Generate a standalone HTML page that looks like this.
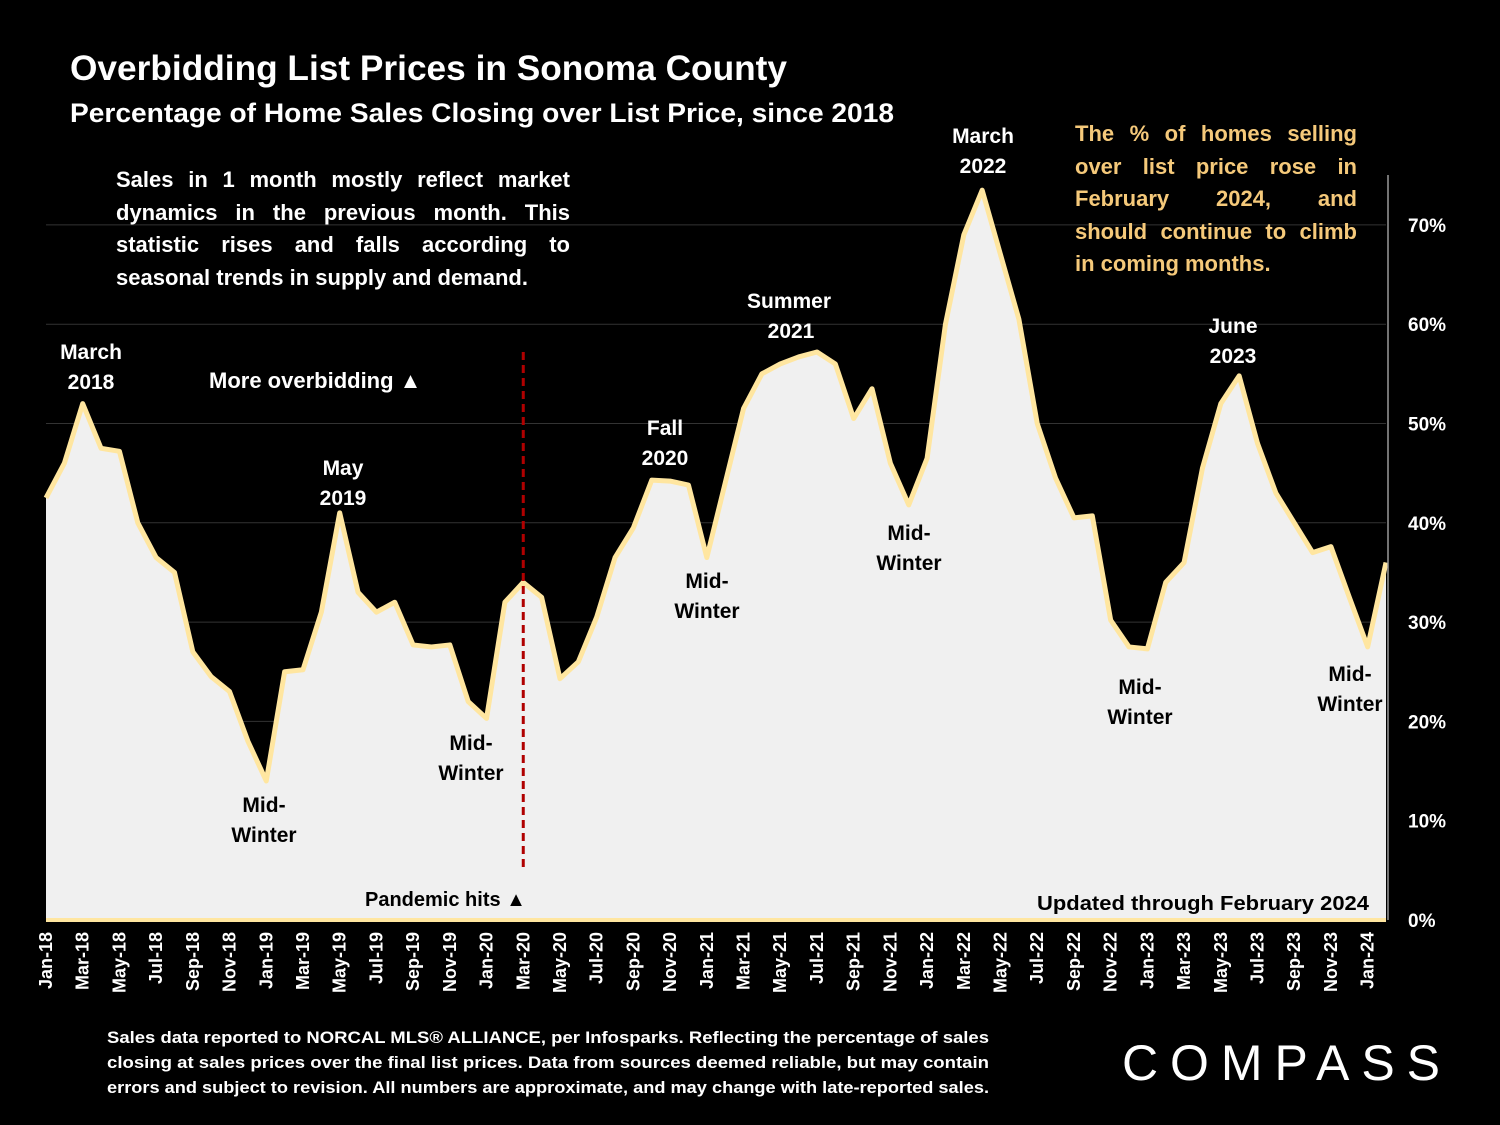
<!DOCTYPE html>
<html><head><meta charset="utf-8"><style>
body{margin:0;background:#000;width:1500px;height:1125px;overflow:hidden;font-family:"Liberation Sans",sans-serif}
svg{position:absolute;left:0;top:0}
.note{position:absolute;font-weight:bold;font-size:22px;line-height:32.6px}
.note span{display:block;text-align:justify;text-align-last:justify;white-space:nowrap}
.note span.last{text-align-last:left}
</style></head><body>
<svg width="1500" height="1125" viewBox="0 0 1500 1125">
<g id="grid"></g>
<g id="plot"></g>
<g id="ann" font-family="Liberation Sans, sans-serif" font-weight="bold" fill="#fff">
<text x="70" y="80" font-size="35" textLength="717" lengthAdjust="spacingAndGlyphs">Overbidding List Prices in Sonoma County</text>
<text x="70" y="122" font-size="27" textLength="824" lengthAdjust="spacingAndGlyphs">Percentage of Home Sales Closing over List Price, since 2018</text>
<text x="209" y="388" font-size="22">More overbidding ▲</text>
<g font-size="21" text-anchor="middle">
<text x="91" y="359">March</text><text x="91" y="389">2018</text>
<text x="343" y="475">May</text><text x="343" y="505">2019</text>
<text x="665" y="435">Fall</text><text x="665" y="465">2020</text>
<text x="789" y="308">Summer</text><text x="791" y="338">2021</text>
<text x="983" y="143">March</text><text x="983" y="173">2022</text>
<text x="1233" y="333">June</text><text x="1233" y="363">2023</text>
</g>
<g font-size="21" text-anchor="middle" fill="#000">
<text x="264" y="812">Mid-</text><text x="264" y="842">Winter</text>
<text x="471" y="750">Mid-</text><text x="471" y="780">Winter</text>
<text x="707" y="588">Mid-</text><text x="707" y="618">Winter</text>
<text x="909" y="540">Mid-</text><text x="909" y="570">Winter</text>
<text x="1140" y="694">Mid-</text><text x="1140" y="724">Winter</text>
<text x="1350" y="681">Mid-</text><text x="1350" y="711">Winter</text>
</g>
<text x="365" y="906" font-size="20" fill="#000">Pandemic hits ▲</text>
<text x="1037" y="910" font-size="20" fill="#000" textLength="332" lengthAdjust="spacingAndGlyphs">Updated through February 2024</text>
<g font-size="17">
<text x="107" y="1043" textLength="882" lengthAdjust="spacingAndGlyphs">Sales data reported to NORCAL MLS® ALLIANCE, per Infosparks. Reflecting the percentage of sales</text>
<text x="107" y="1068" textLength="882" lengthAdjust="spacingAndGlyphs">closing at sales prices over the final list prices. Data from sources deemed reliable, but may contain</text>
<text x="107" y="1093" textLength="882" lengthAdjust="spacingAndGlyphs">errors and subject to revision. All numbers are approximate, and may change with late-reported sales.</text></g>
<text x="1122" y="1080" font-size="50" font-weight="normal" textLength="318" lengthAdjust="spacing">COMPASS</text>
</g>
</svg>
<div class="note" style="left:116px;top:164px;width:454px;color:#fff"><span>Sales in 1 month mostly reflect market</span><span>dynamics in the previous month. This</span><span>statistic rises and falls according to</span><span class="last">seasonal trends in supply and demand.</span></div>
<div class="note" style="left:1075px;top:118px;width:282px;color:#f5c97a"><span>The % of homes selling</span><span>over list price rose in</span><span>February 2024, and</span><span>should continue to climb</span><span class="last">in coming months.</span></div>
<script>
const months=["Jan-18","Feb-18","Mar-18","Apr-18","May-18","Jun-18","Jul-18","Aug-18","Sep-18","Oct-18","Nov-18","Dec-18","Jan-19","Feb-19","Mar-19","Apr-19","May-19","Jun-19","Jul-19","Aug-19","Sep-19","Oct-19","Nov-19","Dec-19","Jan-20","Feb-20","Mar-20","Apr-20","May-20","Jun-20","Jul-20","Aug-20","Sep-20","Oct-20","Nov-20","Dec-20","Jan-21","Feb-21","Mar-21","Apr-21","May-21","Jun-21","Jul-21","Aug-21","Sep-21","Oct-21","Nov-21","Dec-21","Jan-22","Feb-22","Mar-22","Apr-22","May-22","Jun-22","Jul-22","Aug-22","Sep-22","Oct-22","Nov-22","Dec-22","Jan-23","Feb-23","Mar-23","Apr-23","May-23","Jun-23","Jul-23","Aug-23","Sep-23","Oct-23","Nov-23","Dec-23","Jan-24","Feb-24"];
const values=[42.5,46,52,47.5,47.2,40,36.5,35,27,24.5,23,18,14,25,25.2,31,41,33,31,32,27.7,27.5,27.7,22,20.3,32,34,32.5,24.3,26,30.5,36.5,39.5,44.3,44.2,43.8,36.5,44,51.5,55,56,56.7,57.2,56,50.5,53.5,46,41.8,46.5,60,69,73.5,67,60.5,50,44.5,40.5,40.7,30.2,27.5,27.3,34,36,45.5,52,54.8,48,43,40,37,37.6,32.5,27.5,36];
const yTicks=[0,10,20,30,40,50,60,70];
const pandemicIndex=26;
const NS="http://www.w3.org/2000/svg";
const x0=46,x1=1386,y0=920,pxPer=99.3/10;
const X=i=>x0+i*(x1-x0)/(months.length-1);
const Y=v=>y0-v*pxPer;
function mk(t,a,p){const e=document.createElementNS(NS,t);for(const k in a)e.setAttribute(k,a[k]);p.appendChild(e);return e;}
const grid=document.getElementById('grid'),plot=document.getElementById('plot');
yTicks.forEach(v=>{
 if(v>0){const l=mk('line',{x1:x0,x2:x1,y1:Y(v),y2:Y(v),stroke:'#333','stroke-width':1},grid);
 
 }
 const t=mk('text',{x:1408,y:Y(v)+7,fill:'#fff','font-size':19,'font-weight':'bold'},grid);
 t.textContent=v+'%';
 
 
});
let d='M'+X(0)+','+y0;values.forEach((v,i)=>d+=' L'+X(i)+','+Y(v));d+=' L'+X(values.length-1)+','+y0+' Z';
const area=mk('path',{d:d,fill:'#f0f0f0'},plot);


const line=mk('polyline',{points:values.map((v,i)=>X(i)+','+Y(v)).join(' '),fill:'none',stroke:'#ffe6a0','stroke-width':5,'stroke-linejoin':'round'},plot);


const ax=mk('line',{x1:x0,x2:x1,y1:y0,y2:y0,stroke:'#ffe6a0','stroke-width':4},plot);


const ay=mk('line',{x1:x1+2,x2:x1+2,y1:175,y2:y0,stroke:'#999','stroke-width':1.5},plot);


const pd=mk('line',{x1:X(pandemicIndex),x2:X(pandemicIndex),y1:352,y2:868,stroke:'#b00000','stroke-width':3,'stroke-dasharray':'8,5'},plot);


months.forEach((m,i)=>{if(i%2)return;
 const t=mk('text',{x:0,y:0,fill:'#fff','font-size':18,'font-weight':'bold','text-anchor':'end',transform:`translate(${X(i)+6},932) rotate(-90)`},plot);
 t.textContent=m;
 
 
});
</script>
</body></html>
